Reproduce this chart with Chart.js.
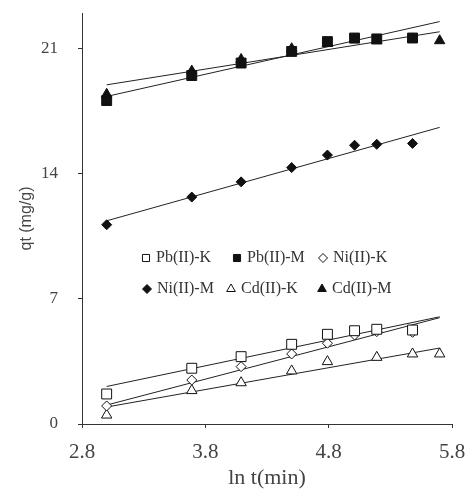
<!DOCTYPE html>
<html>
<head>
<meta charset="utf-8">
<script src="https://cdn.jsdelivr.net/npm/chart.js@4"></script>
<style>
  html, body { margin: 0; padding: 0; background: #fff; }
  #wrap { width: 467px; height: 491px; }
</style>
</head>
<body>
<div id="wrap"><canvas id="grafico"></canvas></div>
<script>
// ln t values (t = 20, 40, 60, 90, 120, 150, 180, 240, 300 min)
const lnT = [3.00, 3.69, 4.09, 4.50, 4.79, 5.01, 5.19, 5.48, 5.70];

// qt (mg/g)
const pbK = [1.68, 3.12, 3.77, 4.46, 5.02, 5.22, 5.30, 5.26];
const pbM = [18.1, 19.5, 20.2, 20.85, 21.4, 21.6, 21.55, 21.6];
const niK = [1.01, 2.46, 3.21, 3.92, 4.52, 4.98, 5.17, 5.13];
const niM = [11.15, 12.7, 13.55, 14.35, 15.05, 15.6, 15.65, 15.7];
const cdK = [0.50, 1.87, 2.31, 2.97, 3.49, null, 3.73, 3.92, 3.92];
const cdM = [18.45, 19.75, 20.4, 21.0, 21.3, 21.5, 21.45, 21.55, 21.45];

// fitted lines, ends read at x = 3.0 and x = 5.7
const fitX = [3.0, 5.7];
const fitPbK = [2.1, 6.0];
const fitPbM = [18.33, 22.52];
const fitNiK = [1.06, 5.95];
const fitNiM = [11.37, 16.6];
const fitCdK = [0.95, 4.25];
const fitCdM = [18.98, 21.95];

const labels = ['Pb(II)-K', 'Pb(II)-M', 'Ni(II)-K', 'Ni(II)-M', 'Cd(II)-K', 'Cd(II)-M'];
const xTicks = [2.8, 3.8, 4.8, 5.8];
const yTicks = [0, 7, 14, 21];

const toPoints = (ys, xs) => ys
  .map((y, i) => ({ x: xs[i], y: y }))
  .filter(p => p.y !== null);

// marker + text positions of the legend inside the plot
const legendSpots = [
  [146, 258], [237, 258], [323, 258],
  [147, 289], [231, 289], [322, 289]
];

function pontos(label, ys, style, fill, radius, legendRadius) {
  return {
    label: label,
    data: toPoints(ys, lnT),
    pointStyle: style,
    pointRadius: radius,
    legendRadius: legendRadius,
    backgroundColor: fill,
    borderColor: '#111',
    pointBorderWidth: 1,
    showLine: false
  };
}

function reta(ys) {
  return {
    data: toPoints(ys, fitX),
    showLine: true,
    pointRadius: 0,
    borderColor: '#222',
    borderWidth: 1,
    fill: false
  };
}

const insideLegend = {
  id: 'insideLegend',
  afterDraw(chart) {
    const ctx = chart.ctx;
    ctx.save();
    legendSpots.forEach((spot, i) => {
      const ds = chart.data.datasets[i];
      ctx.fillStyle = ds.backgroundColor;
      ctx.strokeStyle = '#111';
      ctx.lineWidth = 1;
      Chart.helpers.drawPoint(ctx, {
        pointStyle: ds.pointStyle,
        radius: ds.legendRadius,
        borderWidth: 1,
        rotation: 0
      }, spot[0], spot[1]);
      ctx.fillStyle = '#333';
      ctx.font = '16px "Liberation Serif"';
      ctx.textBaseline = 'middle';
      ctx.textAlign = 'left';
      ctx.fillText(ds.label, spot[0] + 10, spot[1]);
    });
    ctx.restore();
  }
};

const datasets = [
  pontos(labels[0], pbK, 'rect', '#fff', 7, 5),
  pontos(labels[1], pbM, 'rect', '#111', 7, 5),
  pontos(labels[2], niK, 'rectRot', '#fff', 5, 4.5),
  pontos(labels[3], niM, 'rectRot', '#111', 5, 4.5),
  pontos(labels[4], cdK, 'triangle', '#fff', 6, 5),
  pontos(labels[5], cdM, 'triangle', '#111', 6, 5),
  reta(fitPbK), reta(fitPbM), reta(fitNiK),
  reta(fitNiM), reta(fitCdK), reta(fitCdM)
];

new Chart(document.getElementById('grafico'), {
  type: 'scatter',
  data: { datasets: datasets },
  options: {
    responsive: true,
    maintainAspectRatio: false,
    animation: false,
    layout: { padding: { top: 13, right: 15, left: 0, bottom: 0 } },
    plugins: {
      legend: { display: false },
      tooltip: { enabled: false }
    },
    scales: {
      x: {
        type: 'linear',
        min: 2.8,
        max: 5.8,
        afterBuildTicks: s => { s.ticks = xTicks.map(v => ({ value: v })); },
        afterFit: s => {
          s.height = 67;
          s.paddingLeft = 0;
          s.paddingRight = 0;
        },
        border: { color: '#333', width: 1 },
        grid: { drawOnChartArea: false, tickLength: 4, color: '#333' },
        ticks: {
          padding: 12,
          color: '#444',
          font: { family: '"Liberation Serif"', size: 21 },
          callback: v => v.toFixed(1)
        },
        title: {
          display: true,
          text: 'ln t(min)',
          color: '#444',
          font: { family: '"Liberation Serif"', size: 22 },
          padding: { top: 0, bottom: 0 }
        }
      },
      y: {
        type: 'linear',
        min: 0,
        max: 23,
        afterBuildTicks: s => { s.ticks = yTicks.map(v => ({ value: v })); },
        afterFit: s => {
          s.width = 82;
          s.paddingTop = 0;
          s.paddingBottom = 0;
        },
        border: { color: '#333', width: 1 },
        grid: { drawOnChartArea: false, tickLength: 4, color: '#333' },
        ticks: {
          padding: 20,
          color: '#444',
          font: { family: '"Liberation Serif"', size: 17 }
        },
        title: {
          display: true,
          text: 'qt (mg/g)',
          color: '#444',
          font: { family: '"Liberation Sans"', size: 16 },
          padding: { top: 17, bottom: 0 }
        }
      }
    }
  },
  plugins: [insideLegend]
});
</script>
</body>
</html>
